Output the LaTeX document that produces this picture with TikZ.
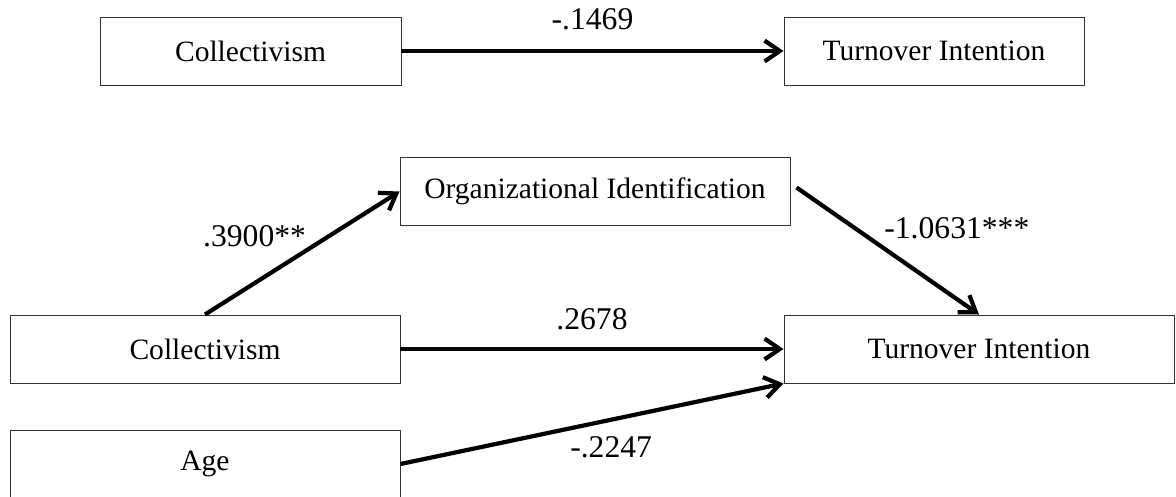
\documentclass[tikz,border=0pt]{standalone}
\usepackage{fontspec}
\setmainfont{Liberation Serif}
\usetikzlibrary{arrows.meta}

\begin{document}
\begin{tikzpicture}[
   box/.style={draw=black!80,line width=0.7pt,minimum height=1.7cm,inner sep=0pt,font=\fontsize{21}{25}\selectfont},
   path/.style={line width=3pt,-{Straight Barb[length=0.38cm,width=0.52cm]}},
   coef/.style={inner sep=0pt,font=\fontsize{22.5}{26}\selectfont}]
   \useasboundingbox (0,0) rectangle (29.4,12.4);

   % total effect
   \node[box,minimum width=7.525cm] (topcoll) at (6.2625,11.125) {Collectivism};
   \node[box,minimum width=7.5cm] (topturn) at (23.35,11.125) {Turnover Intention};
   \draw[path] (topcoll.east) -- node[coef,anchor=south,yshift=0.48cm] {-.1469} (topturn.west);

   % mediation model
   \node[box,minimum width=9.75cm] (org) at (14.875,7.6125) {Organizational Identification};
   \node[box,minimum width=9.75cm] (coll) at (5.125,3.675) {Collectivism};
   \node[box,minimum width=9.75cm] (turn) at (24.475,3.675) {Turnover Intention};
   \node[box,minimum width=9.75cm] (age) at (5.125,0.8) {Age};

   \draw[path] (coll.north) -- node[coef,pos=0.53,anchor=south east] {.3900**} (org.west);
   \draw[path] ([shift={(0.15,0.1)}]org.east) -- node[coef,pos=0.47,anchor=south west,yshift=0.16cm] {-1.0631***} (turn.north);
   \draw[path] (coll.east) -- node[coef,anchor=south,yshift=0.43cm] {.2678} (turn.west);
   \draw[path] (age.east) -- node[coef,pos=0.55,anchor=north,yshift=-0.37cm] {-.2247} (turn.south west);
\end{tikzpicture}
\end{document}
